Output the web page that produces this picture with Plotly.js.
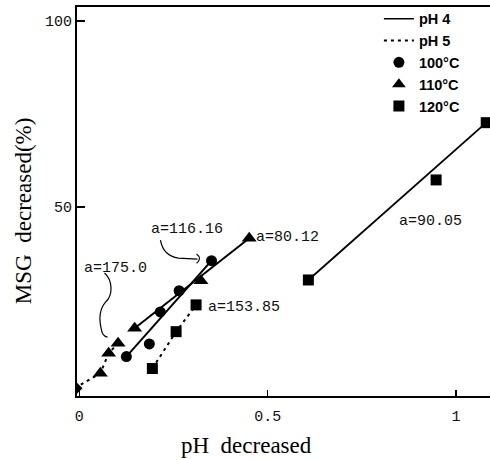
<!DOCTYPE html>
<html>
<head>
<meta charset="utf-8">
<script src="https://cdn.plot.ly/plotly-3.0.1.min.js"></script>
<style>html,body{margin:0;padding:0;background:#fff;}#chart{width:490px;height:460px;}</style>
</head>
<body>
<div id="chart"></div>
<script>
// ---- data ----
// pH 4, 100°C (circles)
const ph4_100_x = [0.125, 0.215, 0.265, 0.351];
const ph4_100_y = [9.8, 21.8, 27.5, 35.6];
const ph4_100_fit_x = [0.125, 0.351];
const ph4_100_fit_y = [9.8, 35.6];
// pH 4, 110°C (triangles)
const ph4_110_x = [0.147, 0.323, 0.451];
const ph4_110_y = [17.4, 30.2, 41.6];
const ph4_110_fit_x = [0.147, 0.451];
const ph4_110_fit_y = [17.4, 41.6];
// pH 4, 120°C (squares)
const ph4_120_x = [0.608, 0.947, 1.080];
const ph4_120_y = [30.4, 57.3, 72.7];
const ph4_120_fit_x = [0.608, 1.080];
const ph4_120_fit_y = [30.4, 72.7];
// pH 5, 100°C (circle)
const ph5_100_x = [0.186];
const ph5_100_y = [13.2];
// pH 5, origin point
const origin_x = [-0.012];
const origin_y = [1.3];
// pH 5, 110°C (triangles)
const ph5_110_x = [0.056, 0.078, 0.103];
const ph5_110_y = [5.3, 10.7, 13.4];
// pH 5, 120°C (squares)
const ph5_120_x = [0.194, 0.257, 0.310];
const ph5_120_y = [6.6, 16.5, 23.7];
// slope labels
const slopeLabels = ['a=116.16', 'a=175.0', 'a=153.85', 'a=80.12', 'a=90.05'];
const slopeLabelX = [0.184, 0.006, 0.335, 0.465, 0.844];
const slopeLabelY = [44.1, 33.6, 23.1, 41.9, 46.0];
// axes
const xTickVals = [0, 0.5, 1];
const xTickText = ['0', '0.5', '1'];
const yTickVals = [50, 100];
const yTickText = ['50', '100'];
const legendNames = ['pH 4', 'pH 5', '100°C', '110°C', '120°C'];

const K = '#000';
const dotDash = '3px,4px';
const mk = (sym, size) => ({symbol: sym, size: size, color: K, opacity: 1, line: {width: 0, color: K}});

const traces = [
  {x: ph4_100_fit_x, y: ph4_100_fit_y, mode: 'lines', line: {color: K, width: 2}, showlegend: false, hoverinfo: 'skip'},
  {x: ph4_110_fit_x, y: ph4_110_fit_y, mode: 'lines', line: {color: K, width: 2}, showlegend: false, hoverinfo: 'skip'},
  {x: ph4_120_fit_x, y: ph4_120_fit_y, mode: 'lines', line: {color: K, width: 1.8}, showlegend: false, hoverinfo: 'skip'},
  {x: origin_x.concat(ph5_110_x), y: origin_y.concat(ph5_110_y), mode: 'lines', line: {color: K, width: 2, dash: dotDash}, showlegend: false, hoverinfo: 'skip'},
  {x: ph5_120_x, y: ph5_120_y, mode: 'lines', line: {color: K, width: 2, dash: dotDash}, showlegend: false, hoverinfo: 'skip'},
  {x: ph4_100_x, y: ph4_100_y, mode: 'markers', marker: mk('circle', 11), showlegend: false},
  {x: ph4_110_x, y: ph4_110_y, mode: 'markers', marker: mk('triangle-up', 13), showlegend: false},
  {x: ph4_120_x, y: ph4_120_y, mode: 'markers', marker: mk('square', 11), showlegend: false},
  {x: ph5_100_x, y: ph5_100_y, mode: 'markers', marker: mk('circle', 11), showlegend: false},
  {x: origin_x, y: origin_y, mode: 'markers', marker: mk('diamond', 12), showlegend: false},
  {x: ph5_110_x, y: ph5_110_y, mode: 'markers', marker: mk('triangle-up', 13), showlegend: false},
  {x: ph5_120_x, y: ph5_120_y, mode: 'markers', marker: mk('square', 11), showlegend: false},
  // legend-only entries
  {x: [null], y: [null], name: legendNames[0], mode: 'lines', line: {color: K, width: 1.5}},
  {x: [null], y: [null], name: legendNames[1], mode: 'lines', line: {color: K, width: 2, dash: dotDash}},
  {x: [null], y: [null], name: legendNames[2], mode: 'markers', marker: mk('circle', 11)},
  {x: [null], y: [null], name: legendNames[3], mode: 'markers', marker: mk('triangle-up', 12)},
  {x: [null], y: [null], name: legendNames[4], mode: 'markers', marker: mk('square', 11)}
];

const monoFont = {family: 'Liberation Mono, DejaVu Sans Mono, monospace', size: 15, color: '#111'};
const serifFont = {family: 'Liberation Serif, Times New Roman, serif', size: 23, color: '#000'};

const annotations = slopeLabels.map((t, i) => ({
  text: t, x: slopeLabelX[i], y: slopeLabelY[i], xref: 'x', yref: 'y',
  xanchor: 'left', yanchor: 'middle', showarrow: false, font: monoFont
}));
annotations.push({text: 'MSG  decreased(%)', xref: 'paper', yref: 'paper', x: -0.128, y: 0.4756,
  textangle: -90, showarrow: false, font: serifFont, xanchor: 'center', yanchor: 'middle'});
annotations.push({text: 'pH  decreased', xref: 'paper', yref: 'paper', x: 0.4116, y: -0.1285,
  showarrow: false, font: serifFont, xanchor: 'center', yanchor: 'middle'});

const shapes = [
  {type: 'path', xref: 'x', yref: 'y', line: {color: K, width: 1.2},
   path: 'M 0.2154,41.1 Q 0.2234,36.8 0.2631,36.3 L 0.3135,36.0 M 0.3113,37.4 Q 0.3268,36.2 0.3113,34.9'},
  {type: 'path', xref: 'x', yref: 'y', line: {color: K, width: 1.2},
   path: 'M 0.0670,32.26 C 0.0882,30.38 0.0909,26.34 0.0697,24.46 C 0.0511,22.31 0.0538,19.09 0.0591,16.94 Q 0.0617,15.32 0.0750,15.05'}
];

const layout = {
  width: 490, height: 460,
  margin: {l: 77, r: 0, t: 7, b: 64, pad: 0},
  paper_bgcolor: '#fff', plot_bgcolor: '#fff',
  showlegend: true,
  legend: {x: 0.731, y: 1.011, xanchor: 'left', yanchor: 'top', bgcolor: 'rgba(0,0,0,0)',
    font: {family: 'Liberation Sans Narrow, Liberation Sans, Arial, sans-serif', size: 14.5, color: '#000', weight: 'bold'},
    itemwidth: 30, tracegroupgap: 0},
  xaxis: {range: [-0.006, 1.09], tickvals: xTickVals, ticktext: xTickText, ticks: 'inside', ticklen: 6, tickwidth: 1.5,
    tickcolor: K, showline: true, linecolor: K, linewidth: 2, mirror: true, showgrid: false, zeroline: false,
    tickfont: monoFont, ticklabelstandoff: 5, fixedrange: true},
  yaxis: {range: [-0.8, 103.8], tickvals: yTickVals, ticktext: yTickText, ticks: 'inside', ticklen: 8, tickwidth: 2,
    tickcolor: K, showline: true, linecolor: K, linewidth: 2, mirror: false, showgrid: false, zeroline: false,
    tickfont: monoFont, fixedrange: true},
  annotations: annotations,
  shapes: shapes
};

Plotly.newPlot('chart', traces, layout, {displayModeBar: false, staticPlot: true});
</script>
</body>
</html>
